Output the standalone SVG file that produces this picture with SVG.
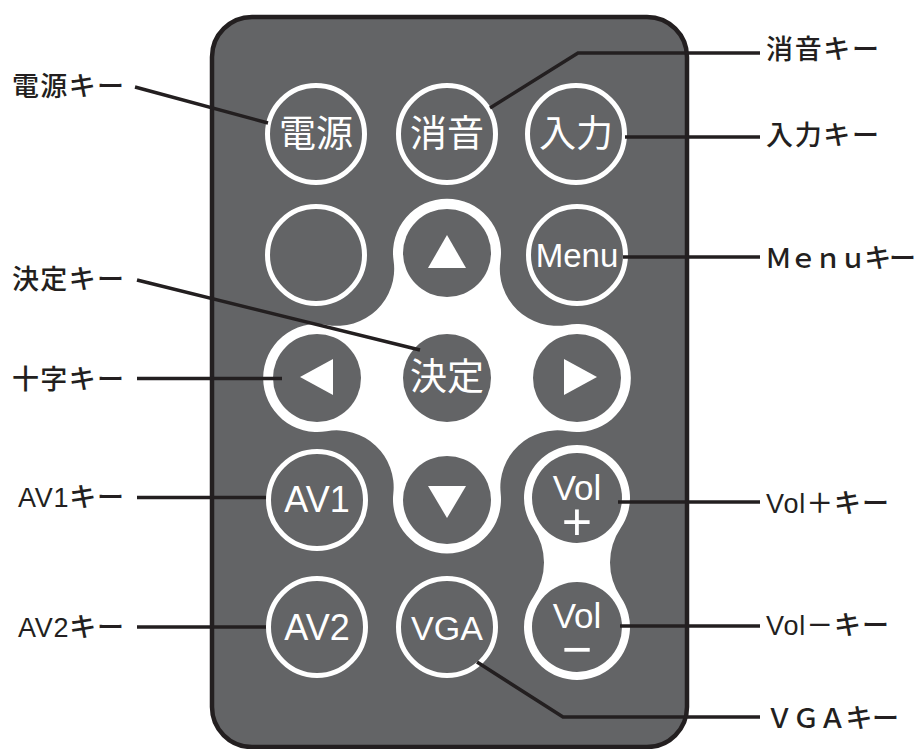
<svg xmlns="http://www.w3.org/2000/svg" width="918" height="749" viewBox="0 0 918 749">
<style>
.body{fill:#636466;stroke:#231f20;stroke-width:4.5}
.ring{fill:#636466;stroke:#fff;stroke-width:5}
.pad{fill:#636466}
.white{fill:#fff}
.bj{font-family:"Noto Sans CJK JP",sans-serif;font-size:37px;fill:#fff;text-anchor:middle}
.bl{font-family:"Liberation Sans","Noto Sans CJK JP",sans-serif;fill:#fff;text-anchor:middle}
.lab{font-family:"Liberation Sans","Noto Sans CJK JP",sans-serif;font-size:27px;font-weight:500;fill:#231f20}
.con{fill:none;stroke:#231f20;stroke-width:3.5}
</style>
<rect width="918" height="749" fill="#fff"/>
<g id="remote">
<rect class="body" x="212" y="17" width="475" height="730" rx="40"/>
<path class="white" d="M393.6,260.7 A54,54 0 1 1 500.4,260.7 A57,57 0 0 0 567.2,324.9 A54,54 0 1 1 567.4,431.2 A57,57 0 0 0 500.7,493.8 A54,54 0 1 1 393.3,493.8 A57,57 0 0 0 326.6,431.2 A54,54 0 1 1 326.8,324.9 A57,57 0 0 0 393.6,260.7 Z"/>
<path class="white" d="M533.3,528 A53,53 0 1 1 620.7,528 A61,61 0 0 0 620.7,597 A53,53 0 1 1 533.3,597 A61,61 0 0 0 533.3,528 Z"/>
</g>
<g id="key-power"><circle class="ring" cx="316" cy="134" r="48.5"/><text class="bj" x="316" y="147">電源</text></g>
<g id="key-mute"><circle class="ring" cx="447" cy="134" r="48.5"/><text class="bj" x="447" y="147">消音</text></g>
<g id="key-input"><circle class="ring" cx="576" cy="134" r="48.5"/><text class="bj" x="576" y="147">入力</text></g>
<g id="key-blank"><circle class="ring" cx="316" cy="255" r="48.5"/></g>
<g id="key-menu"><circle class="ring" cx="577" cy="255" r="48.5"/><text class="bl" x="577" y="267" font-size="33">Menu</text></g>
<g id="key-up"><circle class="pad" cx="447" cy="253" r="44"/><polygon class="white" points="447,235 466,268 428,268"/></g>
<g id="key-left"><circle class="pad" cx="317" cy="378" r="44"/><polygon class="white" points="300,377 333,359 333,395"/></g>
<g id="key-enter"><circle class="pad" cx="447" cy="378" r="44"/><text class="bj" x="447" y="390" font-size="36">決定</text></g>
<g id="key-right"><circle class="pad" cx="577" cy="378" r="44"/><polygon class="white" points="597,377 564,359 564,395"/></g>
<g id="key-down"><circle class="pad" cx="447" cy="500" r="44"/><polygon class="white" points="447,518 466,486 428,486"/></g>
<g id="key-av1"><circle class="ring" cx="317" cy="500" r="48.5"/><text class="bl" x="317" y="512" font-size="36">AV1</text></g>
<g id="key-av2"><circle class="ring" cx="317" cy="627" r="48.5"/><text class="bl" x="317" y="640" font-size="36">AV2</text></g>
<g id="key-vga"><circle class="ring" cx="447" cy="627" r="48.5"/><text class="bl" x="447" y="640" font-size="34">VGA</text></g>
<g id="key-volup"><circle class="pad" cx="577" cy="498" r="45"/><text class="bl" x="577" y="500" font-size="35">Vol<tspan x="577" y="540" font-size="52">+</tspan></text></g>
<g id="key-voldown"><circle class="pad" cx="577" cy="627" r="45"/><text class="bl" x="577" y="628" font-size="35">Vol<tspan x="577" y="667" font-size="52">−</tspan></text></g>
<g id="connectors">
<line class="con" x1="135" y1="87" x2="268" y2="123"/>
<polyline class="con" points="490,108 578,53 760,53"/>
<line class="con" x1="625" y1="137" x2="760" y2="137"/>
<line class="con" x1="623" y1="257" x2="760" y2="257"/>
<line class="con" x1="137" y1="280" x2="420" y2="350"/>
<line class="con" x1="137" y1="378.5" x2="282" y2="378.5"/>
<line class="con" x1="137" y1="497.5" x2="266" y2="497.5"/>
<line class="con" x1="137" y1="627" x2="266" y2="627"/>
<line class="con" x1="618" y1="502" x2="760" y2="502"/>
<line class="con" x1="620" y1="626" x2="760" y2="626"/>
<polyline class="con" points="477,662 563,717 760,717"/>
</g>
<g id="labels">
<text class="lab" x="12" y="96" textLength="112" lengthAdjust="spacing">電源キー</text>
<text class="lab" x="12" y="289" textLength="112" lengthAdjust="spacing">決定キー</text>
<text class="lab" x="12" y="389" textLength="112" lengthAdjust="spacing">十字キー</text>
<text class="lab" x="18" y="507" textLength="106" lengthAdjust="spacing">AV1キー</text>
<text class="lab" x="18" y="637" textLength="106" lengthAdjust="spacing">AV2キー</text>
<text class="lab" x="766" y="59" textLength="113" lengthAdjust="spacing">消音キー</text>
<text class="lab" x="766" y="145" textLength="113" lengthAdjust="spacing">入力キー</text>
<text class="lab" x="765" y="268" textLength="151" lengthAdjust="spacing">Ｍｅｎｕキー</text>
<text class="lab" x="766" y="513" textLength="123" lengthAdjust="spacing">Vol＋キー</text>
<text class="lab" x="766" y="635" textLength="123" lengthAdjust="spacing">Vol－キー</text>
<text class="lab" x="766" y="728" textLength="133" lengthAdjust="spacing">ＶＧＡキー</text>
</g>
</svg>
